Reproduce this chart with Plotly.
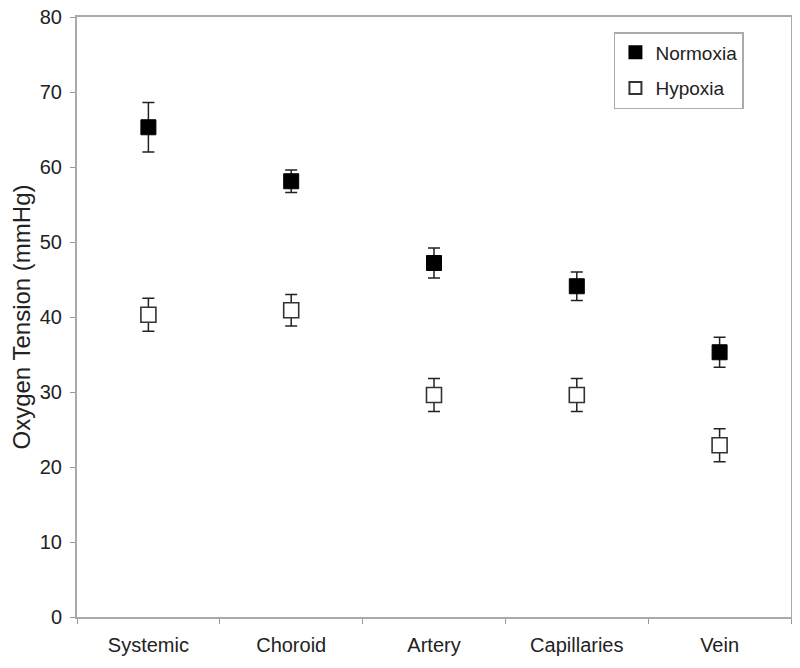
import plotly.graph_objects as go

categories = ["Systemic", "Choroid", "Artery", "Capillaries", "Vein"]
normoxia = [65.3, 58.1, 47.2, 44.1, 35.3]
normoxia_err = [3.3, 1.5, 2.0, 1.9, 2.0]
hypoxia = [40.3, 40.9, 29.6, 29.6, 22.9]
hypoxia_err = [2.2, 2.1, 2.2, 2.2, 2.2]
y_ticks = [0, 10, 20, 30, 40, 50, 60, 70, 80]

font = "Liberation Sans, Arial, sans-serif"

fig = go.Figure()
fig.add_trace(go.Scatter(
    x=categories, y=normoxia, name="Normoxia", mode="markers", legendgroup="n",
    marker=dict(symbol="square", size=15, color="black", line=dict(color="black", width=1)),
    error_y=dict(type="data", array=normoxia_err, color="#222", thickness=1.5, width=6),
))
fig.add_trace(go.Scatter(
    x=categories, y=hypoxia, name="Hypoxia", mode="markers", legendgroup="h",
    marker=dict(symbol="square", size=15, color="white", line=dict(color="#333", width=1.6)),
    error_y=dict(type="data", array=hypoxia_err, color="#222", thickness=1.5, width=6),
))

fig.update_layout(
    width=800, height=668,
    margin=dict(l=69, r=17, t=9, b=59),
    paper_bgcolor="white", plot_bgcolor="white",
    font=dict(family=font, size=20, color="#222"),
    showlegend=True,
    legend=dict(x=0.752, y=0.975, xanchor="left", yanchor="top",
                bordercolor="#aaa", borderwidth=1.5, bgcolor="white",
                font=dict(size=19), itemsizing="constant", tracegroupgap=8),
    xaxis=dict(range=[-0.5, 4.5], showline=True, linecolor="#aaa", linewidth=2, mirror=True,
               ticks="outside", tickson="boundaries", ticklen=5, tickcolor="#999",
               showgrid=False, zeroline=False, automargin=False, ticklabelstandoff=9,
               ticklabeloverflow="allow",
               tickfont=dict(size=20, color="#222")),
    yaxis=dict(range=[0, 80], tickvals=y_ticks, showline=True, linecolor="#aaa", linewidth=2, mirror=True,
               ticks="outside", ticklen=5, tickcolor="#999", showgrid=False, zeroline=False,
               automargin=False, ticklabelstandoff=4, ticklabeloverflow="allow",
               tickfont=dict(size=20, color="#222"),
               title=dict(text="Oxygen Tension (mmHg)", font=dict(size=24, color="#222"), standoff=21)),
)

fig.write_html("out.html")
